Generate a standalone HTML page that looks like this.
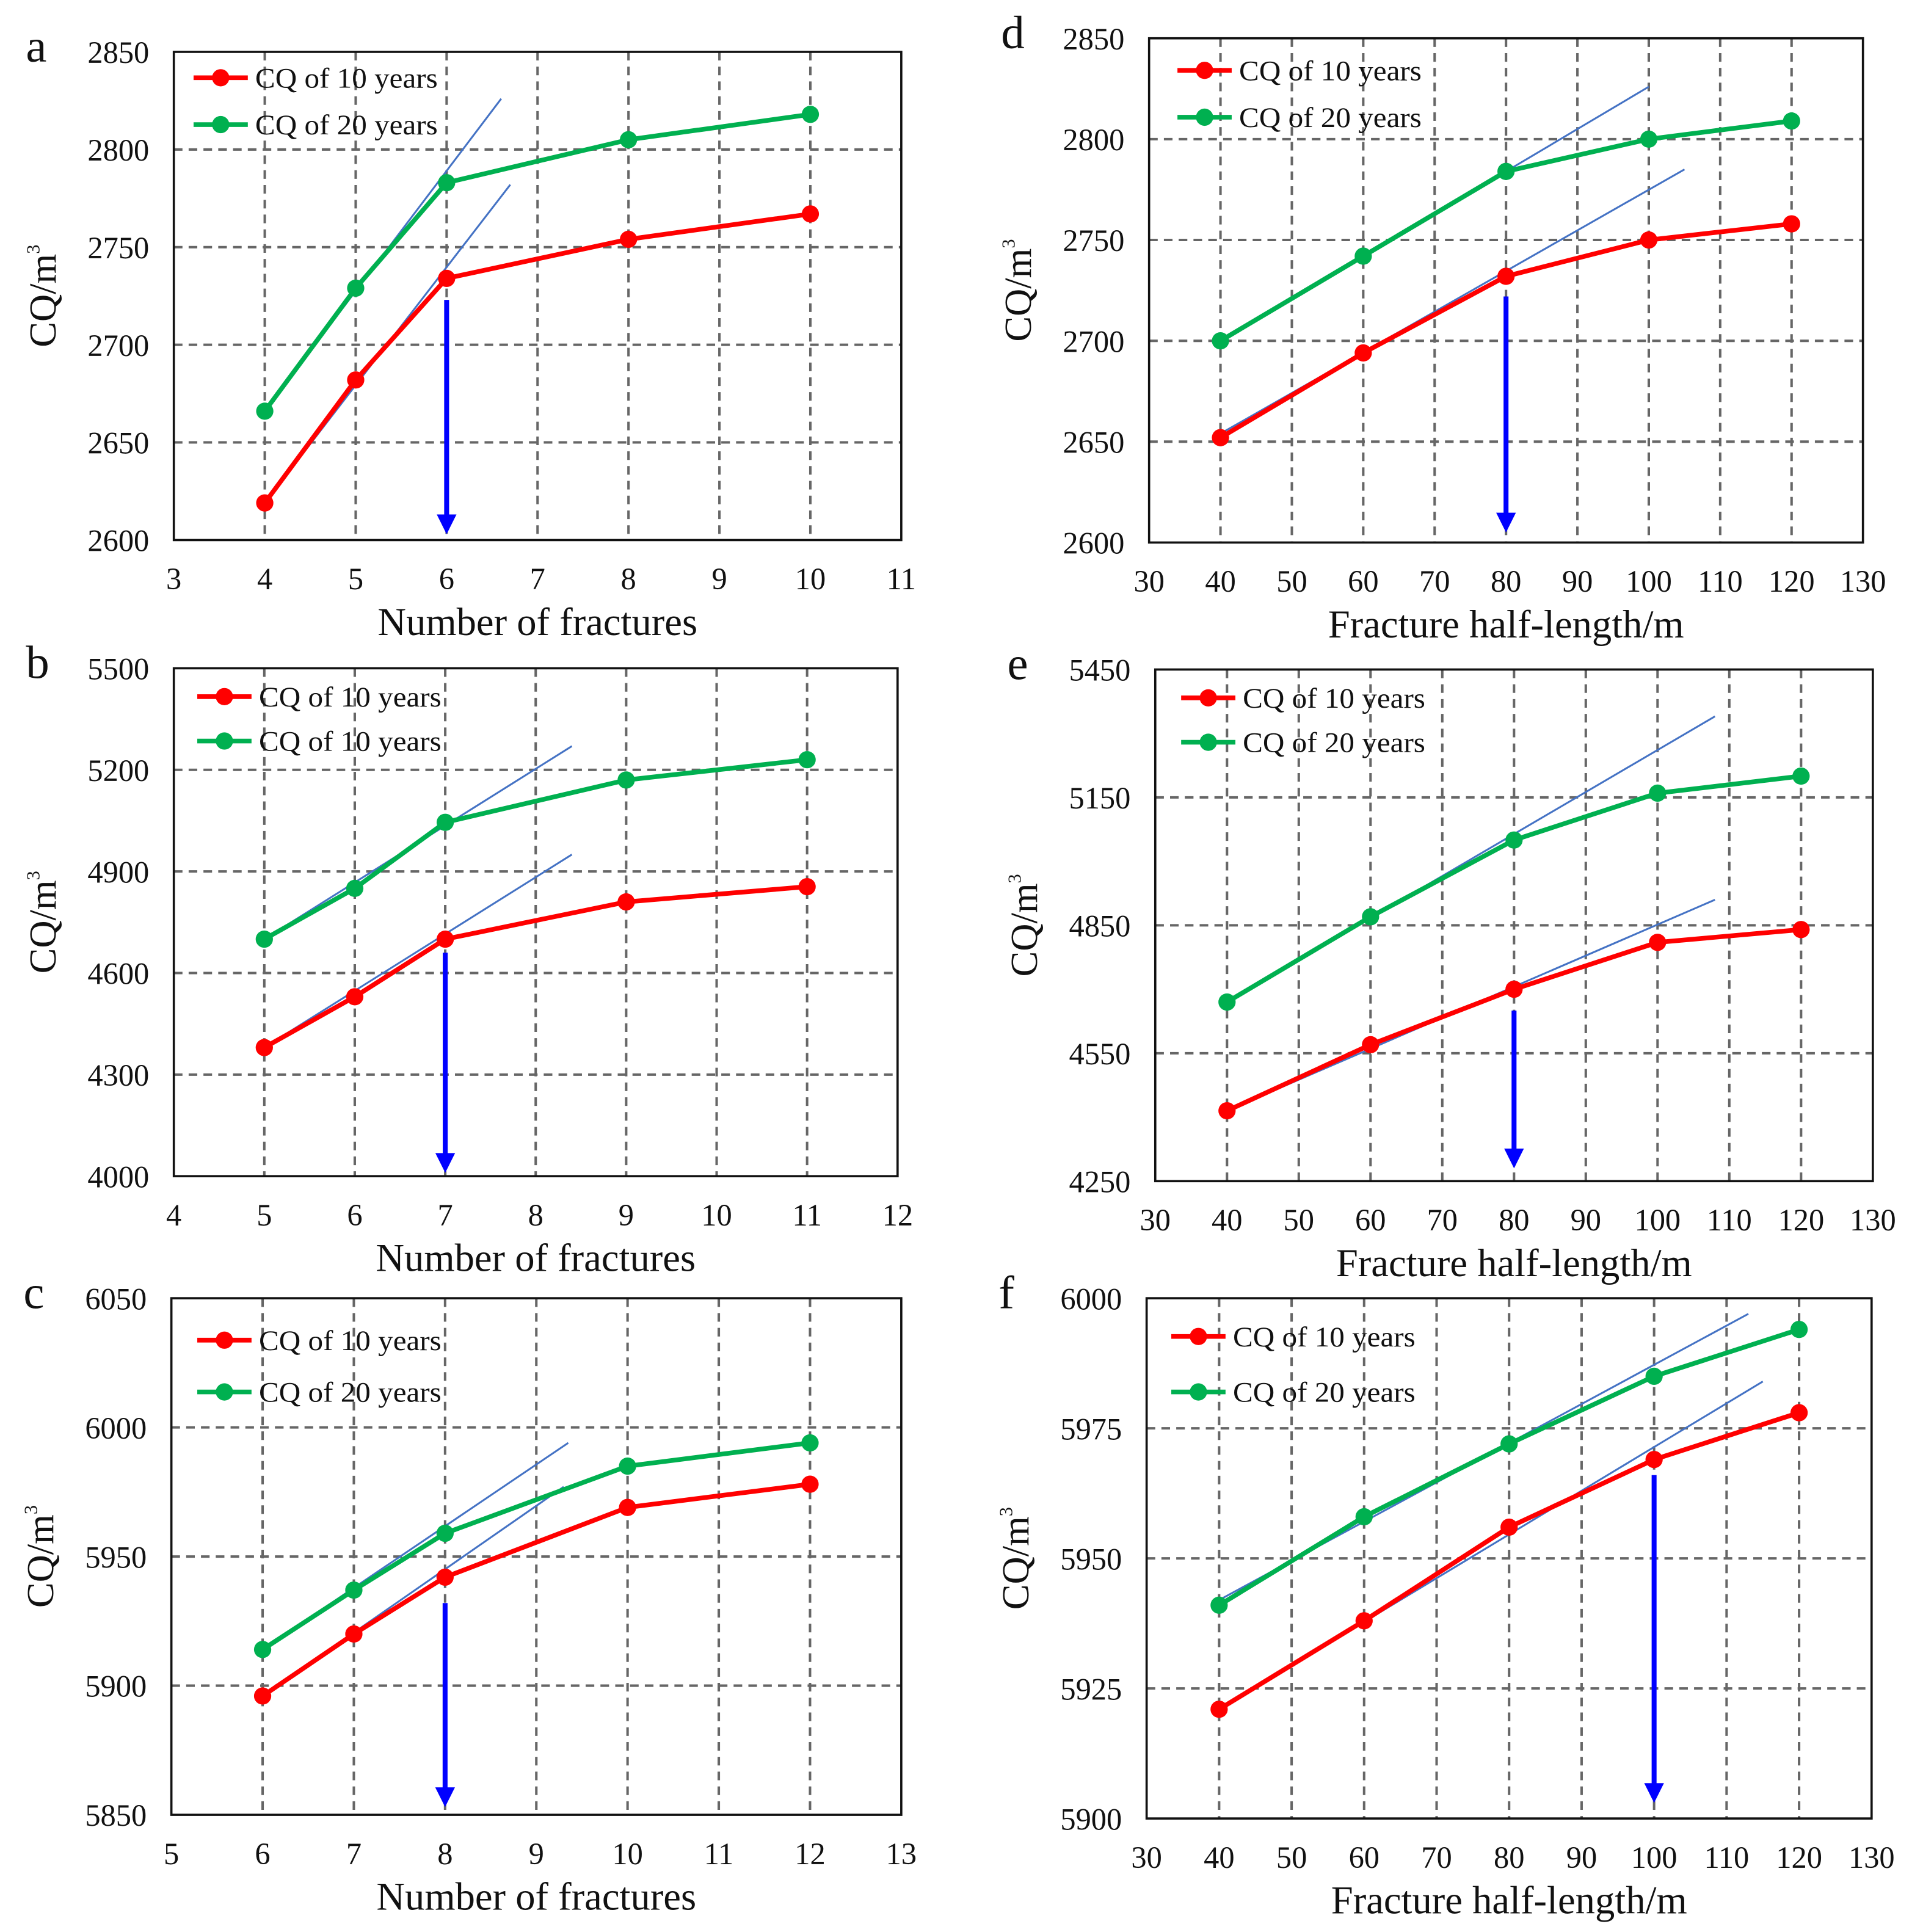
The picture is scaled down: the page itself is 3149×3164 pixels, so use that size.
<!DOCTYPE html>
<html><head><meta charset="utf-8"><style>
html,body{margin:0;padding:0;background:#fff;}
svg{display:block;}
text{font-family:"Liberation Serif",serif;fill:#111;}
</style></head>
<body>
<svg id="fig" xmlns="http://www.w3.org/2000/svg" width="3149" height="3164" viewBox="0 0 1559.7 1567"></svg>
<script>
// Panel a
const aX=[4,5,6,8,10];
const aRed=[2619,2682,2734,2754,2767];
const aGreen=[2666,2729,2783,2805,2818];
const aXTicks=[3,4,5,6,7,8,9,10,11];
const aYTicks=[2600,2650,2700,2750,2800,2850];
// Panel b
const bX=[5,6,7,9,11];
const bRed=[4380,4530,4700,4810,4855];
const bGreen=[4700,4850,5045,5170,5230];
const bXTicks=[4,5,6,7,8,9,10,11,12];
const bYTicks=[4000,4300,4600,4900,5200,5500];
// Panel c
const cX=[6,7,8,10,12];
const cRed=[5896,5920,5942,5969,5978];
const cGreen=[5914,5937,5959,5985,5994];
const cXTicks=[5,6,7,8,9,10,11,12,13];
const cYTicks=[5850,5900,5950,6000,6050];
// Panel d
const dX=[40,60,80,100,120];
const dRed=[2652,2694,2732,2750,2758];
const dGreen=[2700,2742,2784,2800,2809];
const dXTicks=[30,40,50,60,70,80,90,100,110,120,130];
const dYTicks=[2600,2650,2700,2750,2800,2850];
// Panel e
const eX=[40,60,80,100,120];
const eRed=[4415,4570,4700,4810,4840];
const eGreen=[4670,4870,5050,5160,5200];
const eXTicks=[30,40,50,60,70,80,90,100,110,120,130];
const eYTicks=[4250,4550,4850,5150,5450];
// Panel f
const fX=[40,60,80,100,120];
const fRed=[5921,5938,5956,5969,5978];
const fGreen=[5941,5958,5972,5985,5994];
const fXTicks=[30,40,50,60,70,80,90,100,110,120,130];
const fYTicks=[5900,5925,5950,5975,6000];
// tangent lines [x0,y0,x1,y1] and arrow [x, yStart, yEnd]
const aTanG=[4,2666,6.6,2826], aTanR=[4,2619,6.7,2782], aArrow=[6,2723,2603];
const bTanG=[5,4700,8.4,5270], bTanR=[5,4380,8.4,4950], bArrow=[7,4660,4010];
const cTanG=[6,5914,9.35,5994], cTanR=[6,5896,9.3,5977], cArrow=[8,5932,5853];
const dTanG=[40,2700,100,2826], dTanR=[40,2654,105,2785], dArrow=[80,2722,2605];
const eTanG=[40,4670,108,5340], eTanR=[40,4415,108,4910], eArrow=[80,4650,4280];
const fTanG=[40,5942,113,5997], fTanR=[40,5921,115,5984], fArrow=[100,5966,5903];

const NS="http://www.w3.org/2000/svg";
const svg=document.getElementById('fig');
function mk(tag,attrs,parent,txt){const e=document.createElementNS(NS,tag);for(const k in attrs)e.setAttribute(k,attrs[k]);if(txt!==undefined)e.textContent=txt;(parent||svg).appendChild(e);return e;}

const panels=[
 {id:'a',box:[141,42,731,438],X:aX,R:aRed,G:aGreen,xt:aXTicks,yt:aYTicks,tg:aTanG,tr:aTanR,ar:aArrow,leg:['CQ of 10 years','CQ of 20 years'],title:'Number of fractures',lx:157,ly:63,dy:38},
 {id:'b',box:[141,542,728,954],X:bX,R:bRed,G:bGreen,xt:bXTicks,yt:bYTicks,tg:bTanG,tr:bTanR,ar:bArrow,leg:['CQ of 10 years','CQ of 10 years'],title:'Number of fractures',lx:160,ly:565,dy:36},
 {id:'c',box:[139,1053,731,1472],X:cX,R:cRed,G:cGreen,xt:cXTicks,yt:cYTicks,tg:cTanG,tr:cTanR,ar:cArrow,leg:['CQ of 10 years','CQ of 20 years'],title:'Number of fractures',lx:160,ly:1087,dy:42},
 {id:'d',box:[932,31,1511,440],X:dX,R:dRed,G:dGreen,xt:dXTicks,yt:dYTicks,tg:dTanG,tr:dTanR,ar:dArrow,leg:['CQ of 10 years','CQ of 20 years'],title:'Fracture half-length/m',lx:955,ly:57,dy:38},
 {id:'e',box:[937,543,1519,958],X:eX,R:eRed,G:eGreen,xt:eXTicks,yt:eYTicks,tg:eTanG,tr:eTanR,ar:eArrow,leg:['CQ of 10 years','CQ of 20 years'],title:'Fracture half-length/m',lx:958,ly:566,dy:36},
 {id:'f',box:[930,1053,1518,1475],X:fX,R:fRed,G:fGreen,xt:fXTicks,yt:fYTicks,tg:fTanG,tr:fTanR,ar:fArrow,leg:['CQ of 10 years','CQ of 20 years'],title:'Fracture half-length/m',lx:950,ly:1084,dy:45}
];

panels.forEach(p=>{
 const [L,T,Rr,B]=p.box;
 const g=mk('g',{});
 
 
 const x0=p.xt[0],x1=p.xt[p.xt.length-1],y0=p.yt[0],y1=p.yt[p.yt.length-1];
 const sx=v=>L+(v-x0)/(x1-x0)*(Rr-L);
 const sy=v=>B-(v-y0)/(y1-y0)*(B-T);
 p.xt.slice(1,-1).forEach(v=>{const l=mk('line',{x1:sx(v),x2:sx(v),y1:T,y2:B,stroke:'#666','stroke-width':2,'stroke-dasharray':'7,5'},g);});
 p.yt.slice(1,-1).forEach(v=>{const l=mk('line',{x1:L,x2:Rr,y1:sy(v),y2:sy(v),stroke:'#666','stroke-width':2,'stroke-dasharray':'7,5'},g);});
 const fr=mk('rect',{x:L,y:T,width:Rr-L,height:B-T,fill:'none',stroke:'#111','stroke-width':1.8},g);
 
 p.xt.forEach(v=>{const t=mk('text',{x:sx(v),y:B+40,'font-size':25,'text-anchor':'middle'},g,String(v));});
 p.yt.forEach(v=>{const t=mk('text',{x:L-20,y:sy(v)+9,'font-size':25,'text-anchor':'end'},g,String(v));});
 const xt=mk('text',{x:(L+Rr)/2,y:B+77,'font-size':32,'text-anchor':'middle'},g,p.title);
 
 const yc=(T+B)/2, yx=L-96;
 const yt=mk('text',{x:yx,y:yc,'font-size':31,'text-anchor':'middle',transform:`rotate(-90 ${yx} ${yc})`},g);
 
 yt.textContent='CQ/m';
 mk('tspan',{'font-size':15,dy:-13},yt,'3');
 const lt=mk('text',{x:L-120,y:T+8,'font-size':38},g,p.id);
 
 [p.tg,p.tr].forEach(t=>{const l=mk('line',{x1:sx(t[0]),y1:sy(t[1]),x2:sx(t[2]),y2:sy(t[3]),stroke:'#4472c4','stroke-width':1.5},g);});
 [[p.G,'#00b050','series-20-years'],[p.R,'#ff0000','series-10-years']].forEach(([ys,c,n])=>{
  const pts=p.X.map((x,i)=>sx(x)+','+sy(ys[i])).join(' ');
  const pl=mk('polyline',{points:pts,fill:'none',stroke:c,'stroke-width':3.8,'stroke-linejoin':'round'},g);
  
  p.X.forEach((x,i)=>{const m=mk('circle',{cx:sx(x),cy:sy(ys[i]),r:7,fill:c},g);});
 });
 const ax=sx(p.ar[0]),ya=sy(p.ar[1]),yb=sy(p.ar[2]);
 const al=mk('line',{x1:ax,x2:ax,y1:ya,y2:yb-14,stroke:'#0000ff','stroke-width':4},g);
 
 const ah=mk('polygon',{points:`${ax-8},${yb-16} ${ax+8},${yb-16} ${ax},${yb}`,fill:'#0000ff'},g);
 
 [['#ff0000',p.leg[0],0],['#00b050',p.leg[1],p.dy]].forEach(([c,txt,dy])=>{
  const lg=mk('g',{},g);
  
  mk('line',{x1:p.lx,x2:p.lx+44,y1:p.ly+dy,y2:p.ly+dy,stroke:c,'stroke-width':3.8},lg);
  mk('circle',{cx:p.lx+22,cy:p.ly+dy,r:7,fill:c},lg);
  mk('text',{x:p.lx+50,y:p.ly+dy+8,'font-size':23,textLength:148,lengthAdjust:'spacingAndGlyphs'},lg,txt);
 });
});
</script>
</body></html>
